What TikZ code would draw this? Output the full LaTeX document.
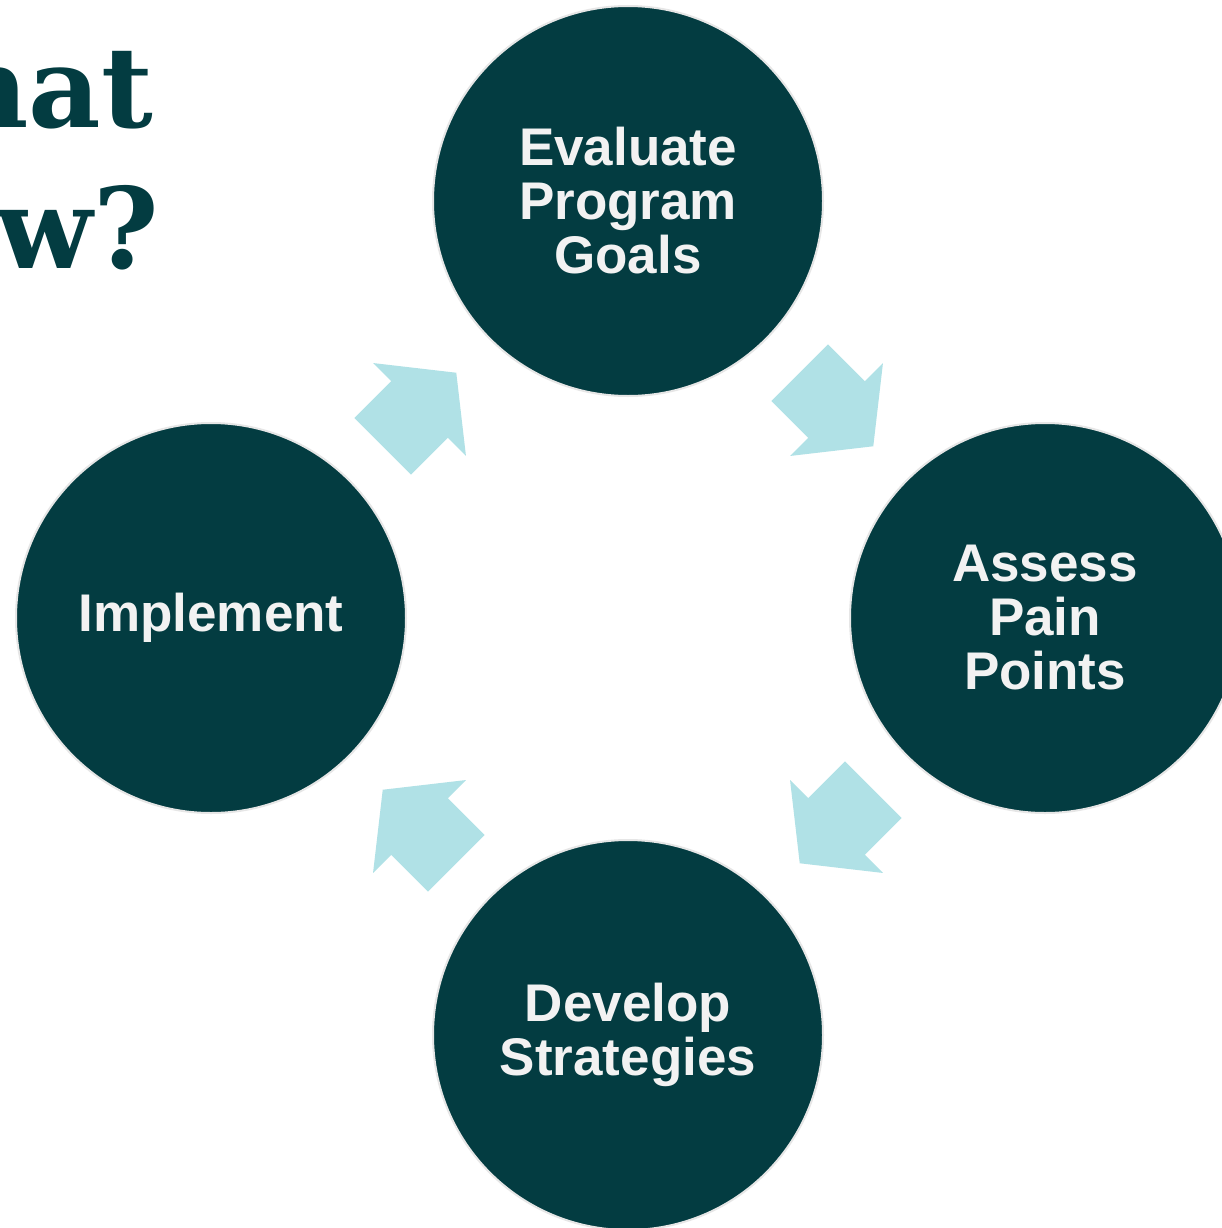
\documentclass[tikz,border=0pt]{standalone}
\usepackage{fontspec}
\setmainfont{Liberation Sans}
\newfontfamily\titlefont{DejaVu Serif}
\usetikzlibrary{calc}
\definecolor{darkteal}{HTML}{033C41}
\definecolor{arrowblue}{HTML}{B0E1E6}
\definecolor{ringgray}{HTML}{E6E6E6}
\definecolor{labelwhite}{HTML}{F2F2F2}
\tikzset{
  stage/.style={circle, minimum size=390pt, inner sep=0pt, fill=darkteal,
    draw=ringgray, line width=2pt, text=labelwhite, align=center,
    font=\fontsize{53}{54}\selectfont\bfseries},
  titletext/.style={inner sep=0pt, text=darkteal,
    font=\titlefont\fontsize{112}{141}\selectfont\bfseries},
  blockarrow/.pic={
    \fill[arrowblue] (0,65.7) -- (52,0) -- (0,-65.7) -- (0,-40) -- (-52,-40)
      -- (-52,40) -- (0,40) -- cycle;
  }
}
\begin{document}
\begin{tikzpicture}[x=1pt,y=-1pt]
\useasboundingbox (0,0) rectangle (1222,1228);
\clip (0,0) rectangle (1222,1228);
\fill[white] (0,0) rectangle (1222,1228);
% title (clipped at the left edge, as in the reference)
\node[titletext, anchor=base east] (t1) at (153,128) {What};
\node[titletext, anchor=base east] (t2) at (159,268) {How?};
% stages
\node[stage] (eval) at (628,201) {Evaluate\\Program\\Goals};
\node[stage] (assess) at (1045,618) {Assess\\Pain\\Points};
\node[stage] (dev) at (628,1035) {Develop\\Strategies};
\node[stage] (impl) at (211,618) {\raisebox{-4pt}{Implement}};
% cycle arrows
\pic[rotate=-45] at ($(eval.center)!0.5!(assess.center)$) {blockarrow};
\pic[rotate=-135] at ($(assess.center)!0.5!(dev.center)$) {blockarrow};
\pic[rotate=135] at ($(dev.center)!0.5!(impl.center)$) {blockarrow};
\pic[rotate=45] at ($(impl.center)!0.5!(eval.center)$) {blockarrow};
\end{tikzpicture}
\end{document}
